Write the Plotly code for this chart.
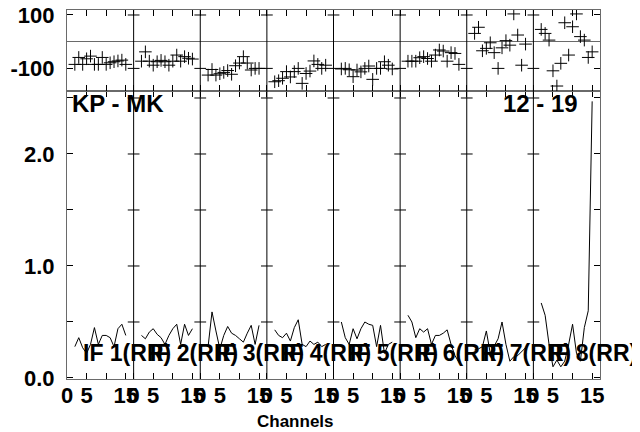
import plotly.graph_objects as go

# ---------------- data ----------------
channels = [2, 3, 4, 5, 6, 7, 8, 9, 10, 11, 12, 13, 14, 15]
if_labels = ["IF 1(RR)", "IF 2(RR)", "IF 3(RR)", "IF 4(RR)",
             "IF 5(RR)", "IF 6(RR)", "IF 7(RR)", "IF 8(RR)"]

phase_if1 = [-85, -59, -85, -64, -54, -85, -85, -59, -85, -79, -75, -72, -69, -85]
phase_if2 = [-73, -38, -73, -88, -75, -70, -75, -88, -73, -50, -73, -56, -62, -65]
phase_if3 = [-125, -104, -125, -120, -115, -108, -122, -90, -80, -56, -80, -106, -100, -100]
phase_if4 = [-150, -146, -137, -112, -132, -112, -100, -156, -119, -110, -72, -85, -100, -88]
phase_if5 = [-102, -100, -105, -131, -106, -113, -100, -91, -141, -100, -100, -75, -88, -102]
phase_if6 = [-73, -73, -73, -60, -56, -63, -73, -50, -31, -35, -73, -41, -44, -85]
phase_if7 = [31, 54, -34, -25, -4, -41, -100, -23, 4, -13, 104, 25, -88, -9]
phase_if8 = [46, 31, 6, -109, -166, -81, 71, -50, 56, 104, 19, 6, -59, -38]

amp_if1 = [0.28, 0.36, 0.27, 0.22, 0.30, 0.45, 0.30, 0.38, 0.38, 0.36, 0.28, 0.44, 0.48, 0.38]
amp_if2 = [0.38, 0.35, 0.41, 0.44, 0.39, 0.36, 0.30, 0.38, 0.44, 0.48, 0.30, 0.48, 0.38, 0.44]
amp_if3 = [0.28, 0.59, 0.42, 0.26, 0.38, 0.46, 0.40, 0.38, 0.35, 0.32, 0.40, 0.47, 0.30, 0.47]
amp_if4 = [0.43, 0.38, 0.36, 0.40, 0.33, 0.45, 0.52, 0.30, 0.28, 0.33, 0.30, 0.32, 0.28, 0.30]
amp_if5 = [0.50, 0.36, 0.30, 0.44, 0.35, 0.44, 0.50, 0.48, 0.47, 0.28, 0.47, 0.22, 0.30, 0.32]
amp_if6 = [0.56, 0.50, 0.36, 0.44, 0.41, 0.44, 0.30, 0.38, 0.38, 0.40, 0.43, 0.30, 0.20, 0.14]
amp_if7 = [0.25, 0.26, 0.28, 0.42, 0.22, 0.28, 0.35, 0.50, 0.30, 0.15, 0.19, 0.20, 0.24, 0.27]
amp_if8 = [0.67, 0.56, 0.30, 0.10, 0.16, 0.10, 0.15, 0.30, 0.48, 0.22, 0.15, 0.45, 0.60, 2.47]

phases = [phase_if1, phase_if2, phase_if3, phase_if4, phase_if5, phase_if6, phase_if7, phase_if8]
amps = [amp_if1, amp_if2, amp_if3, amp_if4, amp_if5, amp_if6, amp_if7, amp_if8]

baseline_label = "KP - MK"
time_label = "12 - 19"
x_title = "Channels"
amp_ticks = [0.0, 1.0, 2.0]
amp_tick_text = ["0.0", "1.0", "2.0"]
phase_ticks = [100, -100]
phase_tick_text = ["100", "-100"]
chan_label_ticks = [0, 5, 15]

# ---------------- layout constants ----------------
PW = 17.0            # channel width of one IF panel
NP = len(if_labels)
FONT = "Liberation Sans, Arial, Helvetica, sans-serif"
FRAME = "#6a6a6a"

fig = go.Figure()

for i in range(NP):
    off = i * PW
    xs = [off + c for c in channels]
    fig.add_trace(go.Scatter(x=xs, y=phases[i], mode="markers", xaxis="x2", yaxis="y2",
                             marker=dict(symbol="cross-thin", size=9,
                                         line=dict(color="black", width=1)),
                             showlegend=False, hoverinfo="skip"))
    fig.add_trace(go.Scatter(x=xs, y=amps[i], mode="lines", xaxis="x", yaxis="y",
                             line=dict(color="black", width=1),
                             showlegend=False, hoverinfo="skip"))

# tick positions
tickvals, ticktext = [], []
for i in range(NP):
    for c in [0, 5, 10, 15]:
        tickvals.append(i * PW + c)
        ticktext.append(str(c) if c in chan_label_ticks else "")

amp_minor = [0.5, 1.0, 1.5, 2.0, 2.5]
amp_tv = [0.0, 0.5, 1.0, 1.5, 2.0, 2.5]
amp_tt = [amp_tick_text[amp_ticks.index(v)] if v in amp_ticks else "" for v in amp_tv]

dom_split = 0.7805
tick_font = dict(size=22, family=FONT, weight="bold", color="black")
fig.update_layout(
    width=640, height=432,
    margin=dict(l=59, r=48, t=2, b=61),
    paper_bgcolor="white", plot_bgcolor="white",
    font=dict(family=FONT, size=22, color="black", weight="bold"),
    xaxis=dict(domain=[0, 1], range=[0, NP * PW], anchor="y", automargin=False,
               tickvals=tickvals, ticktext=ticktext, tickangle=0,
               ticks="inside", ticklen=6, tickcolor="black", tickwidth=1,
               ticklabelstandoff=-4, ticklabeloverflow="allow",
               showline=True, linecolor=FRAME, linewidth=1.2, mirror="ticks",
               showgrid=False, zeroline=False, tickfont=tick_font),
    xaxis2=dict(domain=[0, 1], range=[0, NP * PW], anchor="y2", matches="x",
                automargin=False,
                tickvals=tickvals, showticklabels=False,
                ticks="inside", ticklen=6, tickcolor="black", tickwidth=1,
                showline=True, linecolor=FRAME, linewidth=1.2, mirror="ticks",
                showgrid=False, zeroline=False),
    yaxis=dict(domain=[0, dom_split], range=[-0.009, 2.5625], anchor="x",
               automargin=False,
               tickvals=amp_tv, ticktext=amp_tt, ticklabelstandoff=7,
               ticklabeloverflow="allow",
               ticks="inside", ticklen=6, tickcolor="black", tickwidth=1,
               showline=True, linecolor=FRAME, linewidth=1.2, mirror="ticks",
               showgrid=False, zeroline=False, tickfont=tick_font),
    yaxis2=dict(domain=[dom_split, 1], range=[-184.6, 118.7], anchor="x2",
                automargin=False,
                tickvals=phase_ticks, ticktext=phase_tick_text, ticklabelstandoff=7,
                ticklabeloverflow="allow",
                ticks="inside", ticklen=6, tickcolor="black", tickwidth=1,
                showline=True, linecolor=FRAME, linewidth=1.2, mirror="ticks",
                showgrid=False, zeroline=True, zerolinecolor=FRAME, zerolinewidth=1.2,
                tickfont=tick_font),
)

shapes = []
half = 1.5  # channel half-length of separator tick marks
for k in range(1, NP):
    xs = k * PW
    shapes.append(dict(type="line", xref="x", yref="paper", x0=xs, x1=xs, y0=0, y1=1,
                       line=dict(color="black", width=1)))
    for v in amp_minor:
        shapes.append(dict(type="line", xref="x", yref="y", x0=xs - half, x1=xs + half,
                           y0=v, y1=v, line=dict(color="black", width=1)))
    for v in phase_ticks:
        shapes.append(dict(type="line", xref="x2", yref="y2", x0=xs - half, x1=xs + half,
                           y0=v, y1=v, line=dict(color="black", width=1)))
fig.update_layout(shapes=shapes)

ann_font = dict(size=23, family=FONT, weight="bold", color="black")
ann = []
for i, lab in enumerate(if_labels):
    ann.append(dict(x=i * PW + 3.6, y=0.22, xref="x", yref="y", text=lab, showarrow=False,
                    xanchor="left", yanchor="middle", font=ann_font))
ann.append(dict(x=0.006, y=2.45, xref="paper", yref="y", text=baseline_label, showarrow=False,
                xanchor="left", yanchor="middle", font=dict(ann_font, size=24)))
ann.append(dict(x=0.962, y=2.45, xref="paper", yref="y", text=time_label, showarrow=False,
                xanchor="right", yanchor="middle", font=dict(ann_font, size=24)))
ann.append(dict(x=0.428, y=-0.1165, xref="paper", yref="paper", text=x_title, showarrow=False,
                xanchor="center", yanchor="middle",
                font=dict(size=17, family=FONT, weight="bold", color="black")))
fig.update_layout(annotations=ann)

fig.write_html("out.html")
